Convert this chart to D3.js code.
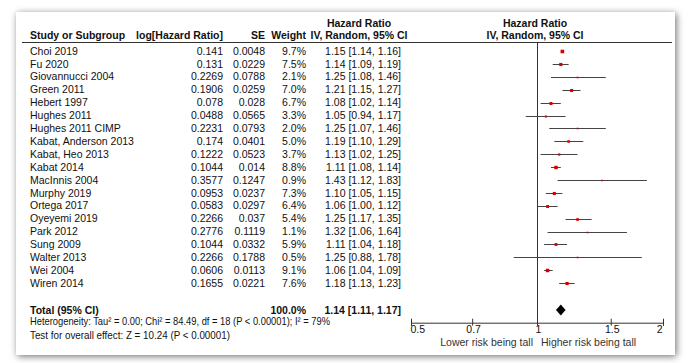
<!DOCTYPE html>
<html><head><meta charset="utf-8">
<script src="https://cdn.jsdelivr.net/npm/d3@7/dist/d3.min.js"></script>
<style>
body{margin:0;background:#fff;}
svg{display:block;font-family:"Liberation Sans",Arial,sans-serif;font-size:10.5px;}
</style></head>
<body>
<svg id="c" width="689" height="363"></svg>
<script>
const studies = ["Choi 2019","Fu 2020","Giovannucci 2004","Green 2011","Hebert 1997","Hughes 2011","Hughes 2011 CIMP","Kabat, Anderson 2013","Kabat, Heo 2013","Kabat 2014","MacInnis 2004","Murphy 2019","Ortega 2017","Oyeyemi 2019","Park 2012","Sung 2009","Walter 2013","Wei 2004","Wiren 2014"];
const logHR = ["0.141","0.131","0.2269","0.1906","0.078","0.0488","0.2231","0.174","0.1222","0.1044","0.3577","0.0953","0.0583","0.2266","0.2776","0.1044","0.2266","0.0606","0.1655"];
const seVals = ["0.0048","0.0229","0.0788","0.0259","0.028","0.0565","0.0793","0.0401","0.0523","0.014","0.1247","0.0237","0.0297","0.037","0.1119","0.0332","0.1788","0.0113","0.0221"];
const weights = [9.7,7.5,2.1,7.0,6.7,3.3,2.0,5.0,3.7,8.8,0.9,7.3,6.4,5.4,1.1,5.9,0.5,9.1,7.6];
const hr = [1.15,1.14,1.25,1.21,1.08,1.05,1.25,1.19,1.13,1.11,1.43,1.10,1.06,1.25,1.32,1.11,1.25,1.06,1.18];
const ciLow = [1.14,1.09,1.08,1.15,1.02,0.94,1.07,1.10,1.02,1.08,1.12,1.05,1.00,1.17,1.06,1.04,0.88,1.04,1.13];
const ciHigh = [1.16,1.19,1.46,1.27,1.14,1.17,1.46,1.29,1.25,1.14,1.83,1.15,1.12,1.35,1.64,1.18,1.78,1.09,1.23];
const total = {label:"Total (95% CI)", weight:"100.0%", hr:1.14, lo:1.11, hi:1.17};
const axisTicks = [0.5,0.7,1,1.5,2];
const heterogeneity = "Heterogeneity: Tau² = 0.00; Chi² = 84.49, df = 18 (P < 0.00001); I² = 79%";
const overallTest = "Test for overall effect: Z = 10.24 (P < 0.00001)";
const favourLeft = "Lower risk being tall";
const favourRight = "Higher risk being tall";

const svg = d3.select("#c");
const defs = svg.append("defs");
const f = defs.append("filter").attr("id","sh").attr("x","-5%").attr("y","-8%").attr("width","110%").attr("height","116%");
f.append("feDropShadow").attr("dx",1.5).attr("dy",1.5).attr("stdDeviation",3.5).attr("flood-color","#000").attr("flood-opacity",0.55);

svg.append("rect").attr("x",16).attr("y",12).attr("width",659).attr("height",343).attr("fill","#fff").attr("filter","url(#sh)");

const fmt2 = d3.format(".2f");
const y = d3.scalePoint().domain(studies).range([51, 283.2]);
const x = d3.scaleLog().domain([0.5,2]).range([411,663]);

const txt = (xx, yy, s, anchor, bold) => svg.append("text").attr("x",xx).attr("y",yy).attr("dy","0.35em")
  .attr("text-anchor",anchor||"start").attr("font-weight",bold?"bold":null).attr("fill","#111").text(s);

// headers
txt(359,23.5,"Hazard Ratio","middle",true);
txt(535,23.5,"Hazard Ratio","middle",true);
txt(30,35,"Study or Subgroup","start",true);
txt(223,35,"log[Hazard Ratio]","end",true);
txt(265,35,"SE","end",true);
txt(306,35,"Weight","end",true);
txt(359,35,"IV, Random, 95% CI","middle",true);
txt(535,35,"IV, Random, 95% CI","middle",true);
svg.append("line").attr("x1",22).attr("x2",672).attr("y1",42.5).attr("y2",42.5).attr("stroke","#333");

// rows
studies.forEach((s,i)=>{
  const yy = y(s);
  txt(30,yy,s);
  txt(223,yy,logHR[i],"end");
  txt(265,yy,seVals[i],"end");
  txt(306,yy,weights[i].toFixed(1)+"%","end");
  txt(401,yy,`${fmt2(hr[i])} [${fmt2(ciLow[i])}, ${fmt2(ciHigh[i])}]`,"end");
});

// no-effect line
const axisY = 322.7;
svg.append("line").attr("x1",x(1)+0.5).attr("x2",x(1)+0.5).attr("y1",42.5).attr("y2",axisY).attr("stroke","#333");

// CI lines
svg.append("g").selectAll("line").data(studies).join("line")
  .attr("x1",(d,i)=>x(ciLow[i])).attr("x2",(d,i)=>x(ciHigh[i]))
  .attr("y1",d=>Math.round(y(d))+0.5).attr("y2",d=>Math.round(y(d))+0.5)
  .attr("stroke","#444").attr("stroke-width",1);
// boxes
const side = w => Math.max(1.6, 1.15*Math.sqrt(w));
svg.append("g").selectAll("rect").data(studies).join("rect")
  .attr("x",(d,i)=>x(hr[i]) - side(weights[i])/2)
  .attr("y",(d,i)=>Math.round(y(d))+0.5 - side(weights[i])/2)
  .attr("width",(d,i)=>side(weights[i]))
  .attr("height",(d,i)=>side(weights[i]))
  .attr("fill","#d40000");

// total
const ty = 310;
txt(30,ty,total.label,"start",true);
txt(306,ty,total.weight,"end",true);
txt(401,ty,`${fmt2(total.hr)} [${fmt2(total.lo)}, ${fmt2(total.hi)}]`,"end",true);
svg.append("path").attr("d",`M${x(total.lo)},${ty} L${x(total.hr)},${ty-5.5} L${x(total.hi)},${ty} L${x(total.hr)},${ty+5.5} Z`).attr("fill","#000");

txt(30,321.5,heterogeneity).attr("textLength",300).attr("lengthAdjust","spacingAndGlyphs");
txt(30,335.5,overallTest).attr("textLength",200).attr("lengthAdjust","spacingAndGlyphs");

// axis
const ax = svg.append("g").attr("transform",`translate(0,${axisY})`)
  .call(d3.axisBottom(x).tickValues(axisTicks).tickFormat(d=>String(d)).tickSizeOuter(0).tickSize(3));
ax.select(".domain").attr("stroke","#333");
ax.selectAll(".tick line").attr("y1",-4).attr("y2",3).attr("stroke","#333");
ax.selectAll(".tick text").attr("y",3).attr("font-size",10.5).attr("font-family","Liberation Sans, Arial, sans-serif").attr("fill","#111")
  .attr("text-anchor",d=>d===axisTicks[0]?"start":(d===axisTicks[axisTicks.length-1]?"end":"middle"))
  .attr("dx",d=>d===axisTicks[0]?-1:(d===axisTicks[axisTicks.length-1]?-1:1));
txt(x(1)-4,342.5,favourLeft,"end").attr("fill","#333");
txt(x(1)+4,342.5,favourRight,"start").attr("fill","#333");
</script>
</body></html>
